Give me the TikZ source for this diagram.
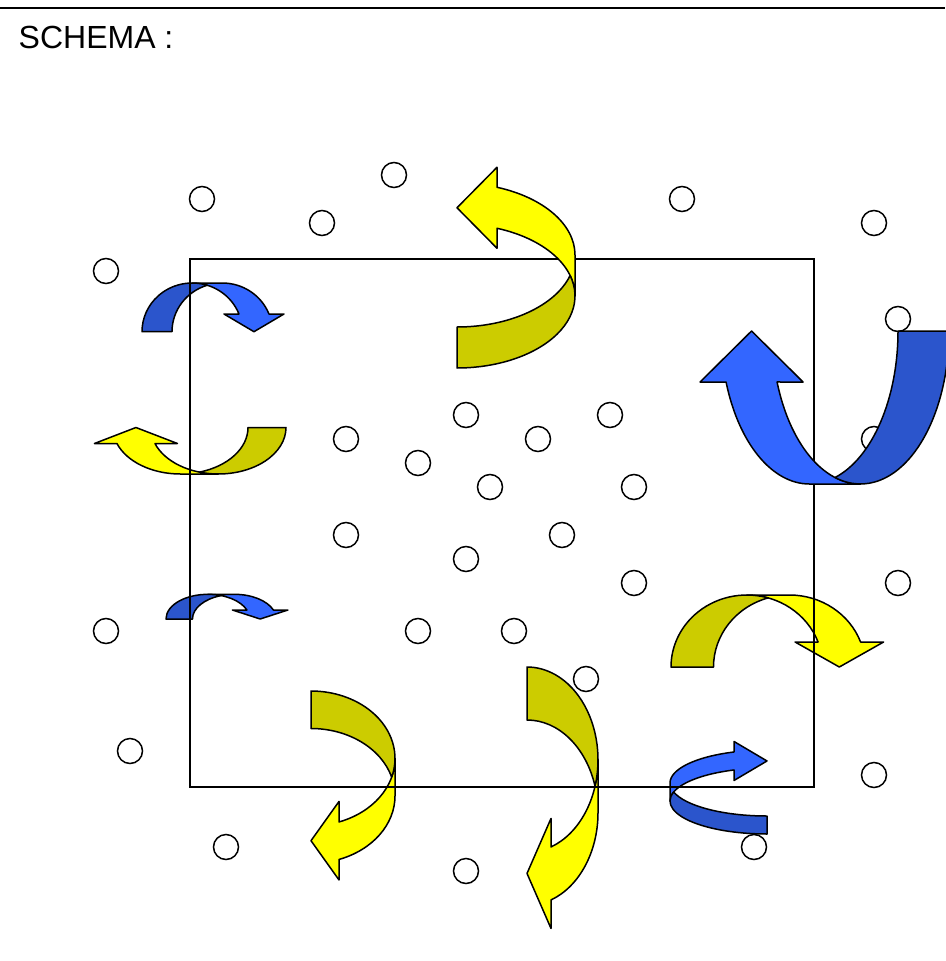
\documentclass[tikz,border=0pt]{standalone}
\usepackage{fontspec}
\setmainfont{Liberation Sans}
\definecolor{ybright}{HTML}{FFFF00}
\definecolor{ydark}{HTML}{CCCC00}
\definecolor{bbright}{HTML}{3366FF}
\definecolor{bdark}{HTML}{2B55CC}
\tikzset{
  arrowline/.style={draw=black, line width=1.5pt, line join=round},
  dot/.style={circle, draw=black, fill=white, line width=1.5pt, minimum size=25pt, inner sep=0pt},
  frame/.style={draw=black, line width=1.5pt},
}
% #1 w, #2 hR, #3 th, #4 ah, #5 dh, #6 bright colour, #7 dark colour
\newcommand\curvarr[7]{%
  \pgfmathsetmacro\cvw{#1}%
  \pgfmathsetmacro\cvh{#2}%
  \pgfmathsetmacro\cvt{#3}%
  \pgfmathsetmacro\cva{acos((#4)/(#1))}%
  \pgfmathsetmacro\cvxa{#1-#4}%
  \pgfmathsetmacro\cvyf{#2+#2*sin(\cva)}%
  \pgfmathsetmacro\cvyg{\cvyf+#3}%
  \pgfmathsetmacro\cvyd{\cvyf-#5}%
  \pgfmathsetmacro\cvyh{\cvyg+#5}%
  \pgfmathsetmacro\cvyt{\cvyf+#3/2}%
  \pgfmathsetmacro\cvb{asin((#3)/(2*#2))}%
  \pgfmathsetmacro\cvix{#1-#1*cos(\cvb)}%
  \pgfmathsetmacro\cviy{#2+#3/2}%
  \filldraw[arrowline, fill=#6] (0,\cvh)
    arc[start angle=180, end angle={180-\cva}, x radius=\cvw, y radius=\cvh]
    -- (\cvxa,\cvyd) -- (\cvw,\cvyt) -- (\cvxa,\cvyh) -- (\cvxa,\cvyg)
    arc[start angle={180-\cva}, end angle=180, x radius=\cvw, y radius=\cvh]
    -- cycle;
  \filldraw[arrowline, fill=#7] (\cvix,\cviy)
    arc[start angle={180-\cvb}, end angle=270, x radius=\cvw, y radius=\cvh]
    -- (\cvw,\cvt)
    arc[start angle=270, end angle={180+\cvb}, x radius=\cvw, y radius=\cvh]
    -- cycle;
}
\begin{document}
\begin{tikzpicture}[x=1pt, y=-1pt]
\useasboundingbox[fill=white] (0,0) rectangle (945,961);
% small circles
\foreach \px/\py [count=\i] in {202/199, 322/223, 394/175, 682/199, 874/223, 106/271, 898/319, 874/439,
  346/439, 466/415, 538/439, 610/415, 418/463, 490/487, 634/487, 346/535, 466/559, 562/535,
  634/583, 898/583, 106/631, 418/631, 514/631, 586/679, 130/751, 874/775, 226/847, 466/871, 754/847}
  \node[dot] (c\i) at (\px,\py) {};
% arrows below the frame
\begin{scope}[shift={(142pt,-283pt)}, x={(0pt,-1pt)}, y={(1pt,0pt)}]
  \curvarr{48.7}{50.2}{30}{17.7}{15}{bbright}{bdark}
\end{scope}
\begin{scope}[shift={(286pt,-474pt)}, x={(0pt,1pt)}, y={(-1pt,0pt)}]
  \curvarr{46.5}{67.6}{38}{16}{22.5}{ybright}{ydark}
\end{scope}
\begin{scope}[shift={(166pt,-594.3pt)}, x={(0pt,-1pt)}, y={(1pt,0pt)}]
  \curvarr{24.7}{41.9}{26.5}{9}{14.5}{bbright}{bdark}
\end{scope}
\begin{scope}[shift={(670pt,-834pt)}, x={(1pt,0pt)}, y={(0pt,1pt)}]
  \curvarr{97}{33}{18}{33}{10.5}{bbright}{bdark}
\end{scope}
\begin{scope}[shift={(671pt,-595pt)}, x={(0pt,-1pt)}, y={(1pt,0pt)}]
  \curvarr{72}{75.9}{42.5}{25}{23}{ybright}{ydark}
\end{scope}
\begin{scope}[shift={(395pt,-691pt)}, x={(-1pt,0pt)}, y={(0pt,-1pt)}]
  \curvarr{84}{67.4}{37.5}{28}{20.5}{ybright}{ydark}
\end{scope}
\begin{scope}[shift={(598pt,-667pt)}, x={(-1pt,0pt)}, y={(0pt,-1pt)}]
  \curvarr{71}{92.7}{53}{24}{28.5}{ybright}{ydark}
\end{scope}
% frame
\draw[frame] (190,259) rectangle (814,787);
% arrows above the frame
\begin{scope}[shift={(575pt,-368pt)}, x={(-1pt,0pt)}, y={(0pt,1pt)}]
  \curvarr{118}{72}{41}{40}{20}{ybright}{ydark}
\end{scope}
\begin{scope}[shift={(949pt,-484pt)}, x={(0pt,1pt)}, y={(-1pt,0pt)}]
  \curvarr{153}{88.5}{51}{51}{26}{bbright}{bdark}
\end{scope}
% header
\coordinate (hl) at (0,8);
\coordinate (hr) at (945,8);
\draw[line width=2pt] (hl) -- (hr);
\node[anchor=base west, inner sep=0pt, font=\fontsize{32}{38}\selectfont] (title) at (18.5,48.5) {SCHEMA :};
\end{tikzpicture}
\end{document}
